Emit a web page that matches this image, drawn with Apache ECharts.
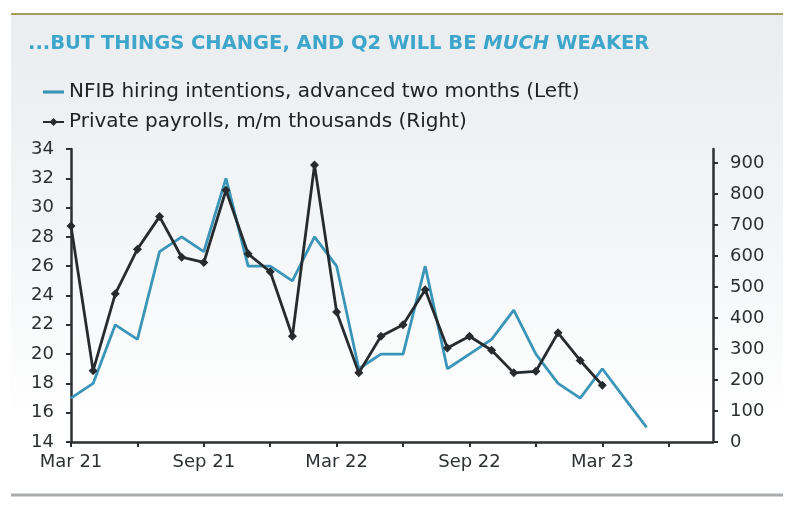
<!DOCTYPE html>
<html>
<head>
<meta charset="utf-8">
<script src="https://cdn.jsdelivr.net/npm/echarts@6/dist/echarts.min.js"></script>
<style>html,body{margin:0;padding:0;background:#fff}#c{width:800px;height:514px}</style>
</head>
<body>
<div id="c"></div>
<script>
var months = ['Mar 21','Apr 21','May 21','Jun 21','Jul 21','Aug 21','Sep 21','Oct 21','Nov 21','Dec 21',
  'Jan 22','Feb 22','Mar 22','Apr 22','May 22','Jun 22','Jul 22','Aug 22','Sep 22','Oct 22','Nov 22','Dec 22',
  'Jan 23','Feb 23','Mar 23','Apr 23','May 23','Jun 23','Jul 23','Aug 23'];
var nfib = [17,18,22,21,27,28,27,32,26,26,25,28,26,19,20,20,26,19,20,21,23,20,18,17,19,17,15];
var payrolls = [697,230,478,622,727,596,579,812,607,549,341,893,419,223,341,378,491,303,341,296,223,228,352,263,183];
var rightTicks = [0,100,200,300,400,500,600,700,800,900];
var nfibName = 'NFIB hiring intentions, advanced two months (Left)';
var payName = 'Private payrolls, m/m thousands (Right)';

var chart = echarts.init(document.getElementById('c'));
var font = 'DejaVu Sans';
var axisCol = '#2b3032';
chart.setOption({
  animation: false,
  backgroundColor: '#ffffff',
  graphic: [
    {type:'rect', shape:{x:11,y:15,width:772,height:479}, style:{fill:{type:'linear',x:0,y:0,x2:0,y2:1,colorStops:[{offset:0,color:'#eaedf0'},{offset:0.45,color:'#f3f5f6'},{offset:0.85,color:'#ffffff'},{offset:1,color:'#ffffff'}]}}, z:-10},
    {type:'line', shape:{x1:11,y1:14,x2:783,y2:14}, style:{stroke:'#a59c5e',lineWidth:2}, z:-5},
    {type:'line', shape:{x1:11,y1:495,x2:783,y2:495}, style:{stroke:'#a8acaf',lineWidth:3}, z:-5},
    {type:'text', left:28, top:34, style:{
      text:'{n|...BUT THINGS CHANGE, AND Q2 WILL BE }{i|MUCH}{n| WEAKER}',
      rich:{
        n:{fontFamily:font, fontWeight:'bold', fontSize:19.5, fill:'#3ea6cb'},
        i:{fontFamily:font, fontWeight:'bold', fontStyle:'italic', fontSize:19.5, fill:'#3ea6cb'}
      }}}
  ],
  legend: {
    orient:'vertical', left:37, top:77, itemGap:10, itemWidth:21, itemHeight:10,
    textStyle:{fontFamily:font, fontSize:20, color:'#222'},
    data:[{name:nfibName, icon:'path://M0 0H20V3H0Z'}, payName]
  },
  grid: {left:71, right:87, top:149, bottom:72},
  xAxis: {
    type:'category', data:months, boundaryGap:false,
    axisLine:{lineStyle:{color:axisCol, width:2.5}},
    axisTick:{interval:2, length:5, lineStyle:{color:axisCol, width:2}},
    axisLabel:{interval:5, margin:11, fontFamily:font, fontSize:18, color:'#2b3032'}
  },
  yAxis: [
    {type:'value', min:14, max:34, interval:2, position:'left',
     splitLine:{show:false},
     axisLine:{show:true, lineStyle:{color:axisCol, width:2.5}},
     axisTick:{show:true, length:5, lineStyle:{color:axisCol, width:2}},
     axisLabel:{margin:17, fontFamily:font, fontSize:18, color:'#2b3032'}},
    {type:'value', min:0, max:945, interval:100, position:'right',
     splitLine:{show:false},
     axisLine:{show:true, lineStyle:{color:axisCol, width:2.5}},
     axisTick:{show:true, length:5, customValues:rightTicks, lineStyle:{color:axisCol, width:2}},
     axisLabel:{margin:17, customValues:rightTicks, fontFamily:font, fontSize:18, color:'#2b3032'}}
  ],
  series: [
    {name:nfibName, type:'line', data:nfib, yAxisIndex:0, symbol:'none',
     lineStyle:{color:'#3a95b8', width:2.8}, itemStyle:{color:'#3a95b8'}, z:2},
    {name:payName, type:'line', data:payrolls, yAxisIndex:1, symbol:'diamond', symbolSize:9,
     lineStyle:{color:'#262b2e', width:2.8}, itemStyle:{color:'#262b2e'}, z:3}
  ]
});
</script>
</body>
</html>
